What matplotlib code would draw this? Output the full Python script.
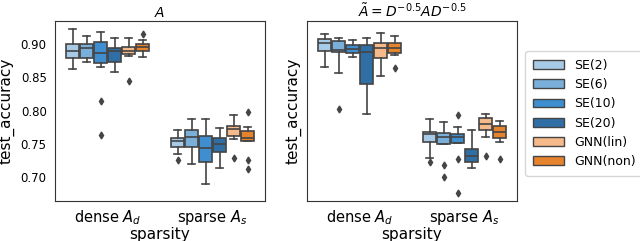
import matplotlib.pyplot as plt
from matplotlib.patches import Patch

# method names and colours
methods = ["SE(2)", "SE(6)", "SE(10)", "SE(20)", "GNN(lin)", "GNN(non)"]
colors = ["#a7cbe6", "#79afd9", "#3f8fd0", "#2f6fa6", "#f5b98a", "#e6832d"]
groups = ["dense $A_d$", "sparse $A_s$"]
titles = ["$A$", r"$\tilde{A} = D^{-0.5}AD^{-0.5}$"]

# box stats: [panel][group][method]
# each row: whislo, q1, med, q3, whishi
stats_A_dense = [
    [0.8625, 0.879, 0.890, 0.901, 0.923],
    [0.8735, 0.879, 0.894, 0.901, 0.913],
    [0.866, 0.871, 0.886, 0.903, 0.918],
    [0.858, 0.8726, 0.889, 0.895, 0.909],
    [0.882, 0.885, 0.890, 0.8954, 0.910],
    [0.881, 0.890, 0.8955, 0.900, 0.9065],
]
fliers_A_dense = [[], [], [0.814, 0.763], [], [0.845], [0.9157]]

stats_A_sparse = [
    [0.735, 0.7455, 0.7535, 0.7586, 0.770],
    [0.720, 0.7455, 0.7595, 0.771, 0.7865],
    [0.6896, 0.7216, 0.7434, 0.762, 0.7865],
    [0.714, 0.7378, 0.7495, 0.758, 0.7738],
    [0.757, 0.761, 0.772, 0.777, 0.7925],
    [0.7535, 0.7535, 0.7586, 0.7687, 0.7747],
]
fliers_A_sparse = [[0.725], [], [], [], [0.729], [0.7975, 0.725, 0.7115]]

stats_N_dense = [
    [0.866, 0.889, 0.9024, 0.9076, 0.9157],
    [0.856, 0.888, 0.891, 0.9055, 0.909],
    [0.881, 0.886, 0.8924, 0.899, 0.9065],
    [0.795, 0.8407, 0.888, 0.899, 0.909],
    [0.852, 0.879, 0.894, 0.9015, 0.9167],
    [0.8837, 0.887, 0.894, 0.9024, 0.9126],
]
fliers_N_dense = [[], [0.8027], [], [], [], [0.8644]]

stats_N_sparse = [
    [0.729, 0.752, 0.7647, 0.767, 0.7875],
    [0.7495, 0.7495, 0.7606, 0.7656, 0.782],
    [0.7506, 0.7506, 0.7606, 0.7647, 0.7758],
    [0.714, 0.723, 0.7317, 0.742, 0.770],
    [0.7595, 0.7708, 0.780, 0.789, 0.795],
    [0.752, 0.758, 0.767, 0.7763, 0.7838],
]
fliers_N_sparse = [[0.723], [0.718, 0.700], [0.7925, 0.727, 0.675], [], [0.7307], [0.7275]]

panels = [
    [(stats_A_dense, fliers_A_dense), (stats_A_sparse, fliers_A_sparse)],
    [(stats_N_dense, fliers_N_dense), (stats_N_sparse, fliers_N_sparse)],
]

plt.rcParams['font.size'] = 9
fig = plt.figure(figsize=(6.4, 2.41), dpi=100)
ax1 = fig.add_axes([55 / 640, 40 / 241, 210 / 640, 180 / 241])
ax2 = fig.add_axes([307 / 640, 40 / 241, 210 / 640, 180 / 241], sharey=ax1)

line_col = "#444444"
w = 0.8 / len(methods)
for ax, panel, title in zip([ax1, ax2], panels, titles):
    for gi, (st, fl) in enumerate(panel):
        for mi, (row, fli) in enumerate(zip(st, fl)):
            d = dict(whislo=row[0], q1=row[1], med=row[2], q3=row[3],
                     whishi=row[4], fliers=fli)
            pos = gi + (mi - 2.5) * w
            ax.bxp([d], positions=[pos], widths=w * 0.98, patch_artist=True,
                   showfliers=True,
                   boxprops=dict(facecolor=colors[mi], edgecolor=line_col, lw=1.2),
                   medianprops=dict(color=line_col, lw=1.2),
                   whiskerprops=dict(color=line_col, lw=1.2),
                   capprops=dict(color=line_col, lw=1.2),
                   flierprops=dict(marker="d", markersize=3.5, markerfacecolor=line_col,
                                   markeredgecolor=line_col))
    ax.set_xlim(-0.5, 1.5)
    ax.set_xticks([0, 1])
    ax.set_xticklabels(groups, fontsize=10.5)
    ax.set_xlabel("sparsity", fontsize=11, labelpad=0)
    ax.set_ylabel("test_accuracy", fontsize=11)
    ax.set_title(title, fontsize=10, pad=3)
    ax.tick_params(axis="x", length=0, pad=5)
    ax.tick_params(axis="y", length=0, pad=6, labelsize=8.5)
    for s in ax.spines.values():
        s.set_color("#333333")

ax1.set_ylim(0.6635, 0.935)
ax1.set_yticks([0.70, 0.75, 0.80, 0.85, 0.90])
ax1.set_yticklabels(["0.70", "0.75", "0.80", "0.85", "0.90"])
plt.setp(ax2.get_yticklabels(), visible=False)

handles = [Patch(facecolor=c, edgecolor=line_col, label=m) for c, m in zip(colors, methods)]
fig.legend(handles=handles, loc="upper left", bbox_to_anchor=(519 / 640, 1 - 45 / 241),
           labelspacing=0.5, handlelength=2.5, fontsize=9, borderpad=0.6)

fig.savefig("out.png", dpi=100)
